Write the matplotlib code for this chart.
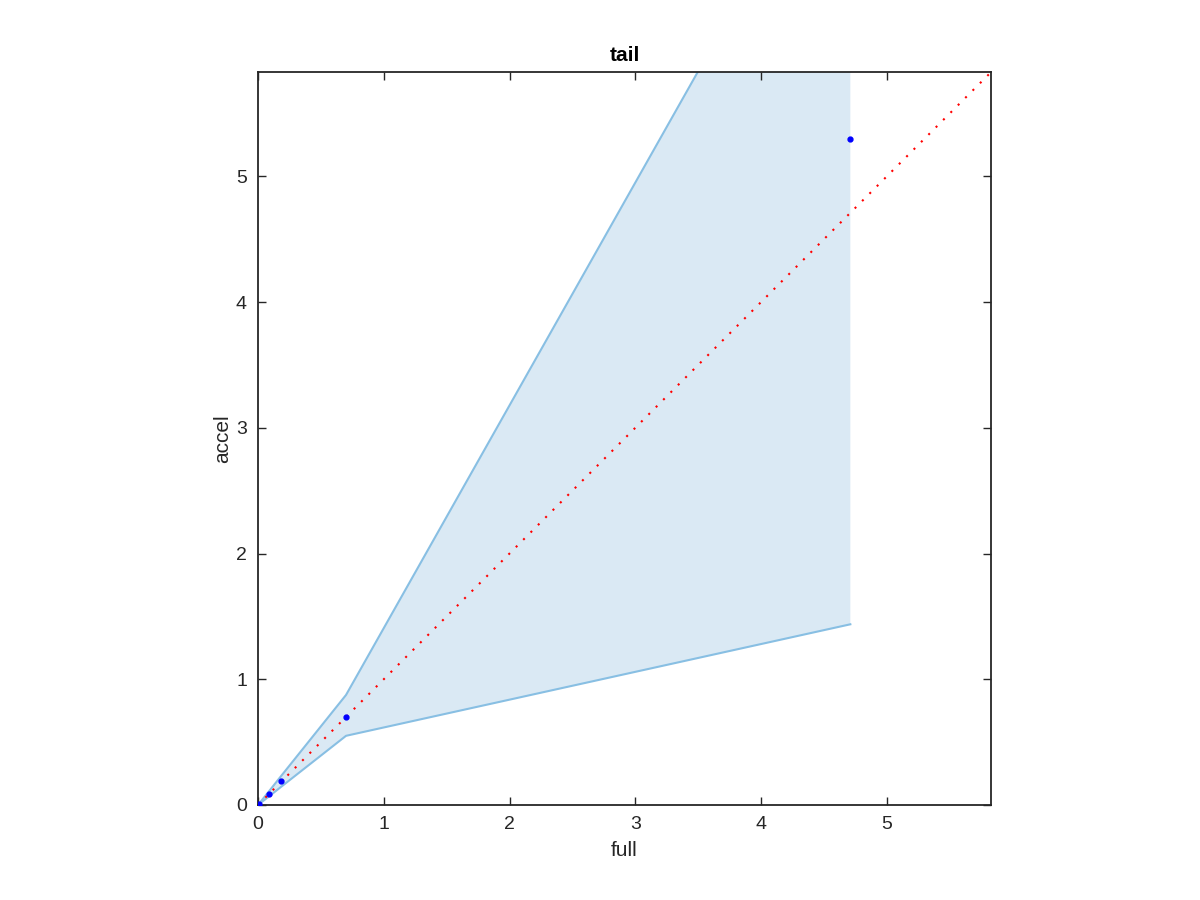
import matplotlib
matplotlib.use("Agg")
import matplotlib.pyplot as plt
import numpy as np

plt.rcParams['font.family'] = ['Liberation Sans', 'DejaVu Sans']

full = [0.0, 0.01, 0.09, 0.186, 0.70, 4.71]
accel = [0.0, 0.01, 0.085, 0.193, 0.696, 5.30]
band_lower = [0.0, 0.008, 0.07, 0.146, 0.55, 1.437]
band_upper = [0.0, 0.012, 0.112, 0.233, 0.875, 7.98]
lim = [0, 5.83]
xticks = [0, 1, 2, 3, 4, 5]
yticks = [0, 1, 2, 3, 4, 5]

fig = plt.figure(figsize=(12, 9), dpi=100)
ax = fig.add_axes([0.215, 0.1056, 0.611, 0.8144])

ax.fill_between(full, band_lower, band_upper, facecolor='#dae9f4', edgecolor='none', zorder=1)
ax.plot(full, band_upper, color='#88bfe3', lw=1.5, zorder=2)
ax.plot(full, band_lower, color='#88bfe3', lw=1.5, zorder=2)
ax.plot(lim, lim, color='red', ls=(0, (1, 4)), lw=1.5, zorder=3)
ax.plot(full, accel, 'o', color='blue', markersize=3.5, zorder=4)

ax.set_xlim(lim)
ax.set_ylim(lim)
ax.set_xticks(xticks)
ax.set_yticks(yticks)
ax.tick_params(direction='in', length=6, width=1, colors='#262626', labelsize=14,
               top=True, right=True, labelcolor='#262626', pad=8)
for s in ax.spines.values():
    s.set_color('#262626')
    s.set_linewidth(1.3)
ax.set_xlabel('full', fontsize=15, color='#262626', labelpad=6)
ax.set_ylabel('accel', fontsize=15, color='#262626', labelpad=3)
ax.set_title('tail', fontsize=15, fontweight='bold', pad=8)

fig.savefig('out.png', dpi=100)
